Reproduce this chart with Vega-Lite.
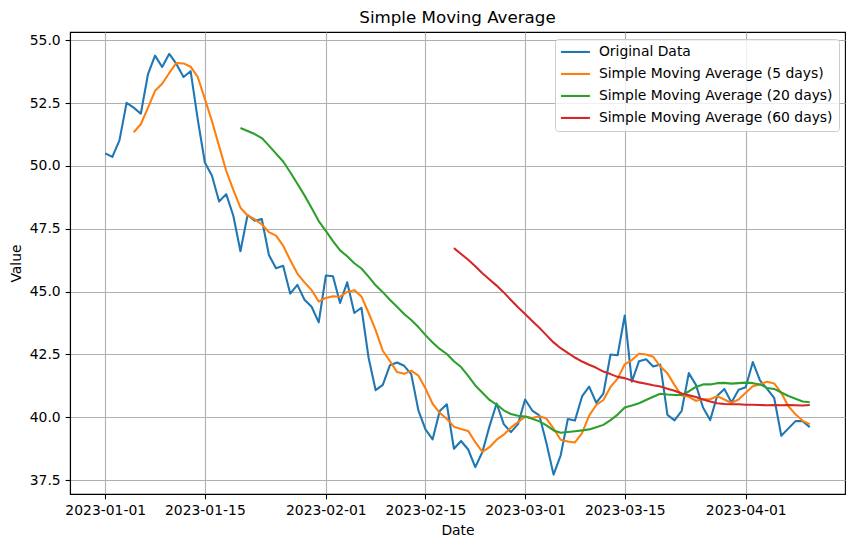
{
  "$schema": "https://vega.github.io/schema/vega-lite/v6.json",
  "width": 775,
  "height": 462,
  "autosize": {"type": "none"},
  "padding": {"left": 70, "top": 32, "right": 9, "bottom": 53},
  "background": "white",
  "title": {"text": "Simple Moving Average", "font": "DejaVu Sans", "fontSize": 16.7, "fontWeight": "normal", "color": "black", "anchor": "middle", "offset": 5},
  "data": {"values": [
    {"date": "2023-01-01", "orig": 50.50},
    {"date": "2023-01-02", "orig": 50.36},
    {"date": "2023-01-03", "orig": 51.02},
    {"date": "2023-01-04", "orig": 52.51},
    {"date": "2023-01-05", "orig": 52.32, "sma5": 51.34},
    {"date": "2023-01-06", "orig": 52.08, "sma5": 51.66},
    {"date": "2023-01-07", "orig": 53.64, "sma5": 52.31},
    {"date": "2023-01-08", "orig": 54.39, "sma5": 52.99},
    {"date": "2023-01-09", "orig": 53.94, "sma5": 53.27},
    {"date": "2023-01-10", "orig": 54.46, "sma5": 53.70},
    {"date": "2023-01-11", "orig": 54.06, "sma5": 54.10},
    {"date": "2023-01-12", "orig": 53.54, "sma5": 54.08},
    {"date": "2023-01-13", "orig": 53.77, "sma5": 53.95},
    {"date": "2023-01-14", "orig": 51.85, "sma5": 53.54},
    {"date": "2023-01-15", "orig": 50.14, "sma5": 52.67},
    {"date": "2023-01-16", "orig": 49.61, "sma5": 51.78},
    {"date": "2023-01-17", "orig": 48.59, "sma5": 50.79},
    {"date": "2023-01-18", "orig": 48.88, "sma5": 49.81},
    {"date": "2023-01-19", "orig": 48.02, "sma5": 49.05},
    {"date": "2023-01-20", "orig": 46.61, "sma5": 48.34, "sma20": 51.51},
    {"date": "2023-01-21", "orig": 48.05, "sma5": 48.03, "sma20": 51.39},
    {"date": "2023-01-22", "orig": 47.82, "sma5": 47.88, "sma20": 51.27},
    {"date": "2023-01-23", "orig": 47.89, "sma5": 47.68, "sma20": 51.11},
    {"date": "2023-01-24", "orig": 46.46, "sma5": 47.37, "sma20": 50.81},
    {"date": "2023-01-25", "orig": 45.93, "sma5": 47.23, "sma20": 50.49},
    {"date": "2023-01-26", "orig": 46.03, "sma5": 46.83, "sma20": 50.18},
    {"date": "2023-01-27", "orig": 44.92, "sma5": 46.25, "sma20": 49.75},
    {"date": "2023-01-28", "orig": 45.27, "sma5": 45.72, "sma20": 49.29},
    {"date": "2023-01-29", "orig": 44.68, "sma5": 45.37, "sma20": 48.83},
    {"date": "2023-01-30", "orig": 44.40, "sma5": 45.06, "sma20": 48.33},
    {"date": "2023-01-31", "orig": 43.78, "sma5": 44.61, "sma20": 47.81},
    {"date": "2023-02-01", "orig": 45.64, "sma5": 44.75, "sma20": 47.42},
    {"date": "2023-02-02", "orig": 45.61, "sma5": 44.82, "sma20": 47.01},
    {"date": "2023-02-03", "orig": 44.55, "sma5": 44.80, "sma20": 46.64},
    {"date": "2023-02-04", "orig": 45.37, "sma5": 44.99, "sma20": 46.41},
    {"date": "2023-02-05", "orig": 44.15, "sma5": 45.06, "sma20": 46.13},
    {"date": "2023-02-06", "orig": 44.36, "sma5": 44.81, "sma20": 45.92},
    {"date": "2023-02-07", "orig": 42.38, "sma5": 44.16, "sma20": 45.60},
    {"date": "2023-02-08", "orig": 41.08, "sma5": 43.47, "sma20": 45.25},
    {"date": "2023-02-09", "orig": 41.29, "sma5": 42.65, "sma20": 44.98},
    {"date": "2023-02-10", "orig": 42.07, "sma5": 42.24, "sma20": 44.68},
    {"date": "2023-02-11", "orig": 42.18, "sma5": 41.80, "sma20": 44.40},
    {"date": "2023-02-12", "orig": 42.05, "sma5": 41.73, "sma20": 44.11},
    {"date": "2023-02-13", "orig": 41.72, "sma5": 41.86, "sma20": 43.87},
    {"date": "2023-02-14", "orig": 40.28, "sma5": 41.66, "sma20": 43.59},
    {"date": "2023-02-15", "orig": 39.52, "sma5": 41.15, "sma20": 43.27},
    {"date": "2023-02-16", "orig": 39.12, "sma5": 40.54, "sma20": 42.98},
    {"date": "2023-02-17", "orig": 40.25, "sma5": 40.18, "sma20": 42.72},
    {"date": "2023-02-18", "orig": 40.52, "sma5": 39.94, "sma20": 42.52},
    {"date": "2023-02-19", "orig": 38.75, "sma5": 39.63, "sma20": 42.23, "sma60": 46.73},
    {"date": "2023-02-20", "orig": 39.06, "sma5": 39.54, "sma20": 42.00, "sma60": 46.50},
    {"date": "2023-02-21", "orig": 38.72, "sma5": 39.46, "sma20": 41.65, "sma60": 46.27},
    {"date": "2023-02-22", "orig": 38.02, "sma5": 39.01, "sma20": 41.27, "sma60": 46.01},
    {"date": "2023-02-23", "orig": 38.62, "sma5": 38.63, "sma20": 40.98, "sma60": 45.73},
    {"date": "2023-02-24", "orig": 39.65, "sma5": 38.81, "sma20": 40.69, "sma60": 45.48},
    {"date": "2023-02-25", "orig": 40.55, "sma5": 39.11, "sma20": 40.51, "sma60": 45.24},
    {"date": "2023-02-26", "orig": 39.73, "sma5": 39.31, "sma20": 40.28, "sma60": 44.97},
    {"date": "2023-02-27", "orig": 39.41, "sma5": 39.59, "sma20": 40.13, "sma60": 44.67},
    {"date": "2023-02-28", "orig": 39.73, "sma5": 39.81, "sma20": 40.06, "sma60": 44.38},
    {"date": "2023-03-01", "orig": 40.71, "sma5": 40.03, "sma20": 40.03, "sma60": 44.11},
    {"date": "2023-03-02", "orig": 40.27, "sma5": 39.97, "sma20": 39.94, "sma60": 43.83},
    {"date": "2023-03-03", "orig": 40.08, "sma5": 40.04, "sma20": 39.84, "sma60": 43.56},
    {"date": "2023-03-04", "orig": 38.97, "sma5": 39.95, "sma20": 39.68, "sma60": 43.27},
    {"date": "2023-03-05", "orig": 37.72, "sma5": 39.55, "sma20": 39.48, "sma60": 42.98},
    {"date": "2023-03-06", "orig": 38.49, "sma5": 39.11, "sma20": 39.39, "sma60": 42.75},
    {"date": "2023-03-07", "orig": 39.93, "sma5": 39.04, "sma20": 39.42, "sma60": 42.56},
    {"date": "2023-03-08", "orig": 39.87, "sma5": 39.00, "sma20": 39.45, "sma60": 42.38},
    {"date": "2023-03-09", "orig": 40.83, "sma5": 39.37, "sma20": 39.48, "sma60": 42.22},
    {"date": "2023-03-10", "orig": 41.22, "sma5": 40.07, "sma20": 39.52, "sma60": 42.09},
    {"date": "2023-03-11", "orig": 40.58, "sma5": 40.49, "sma20": 39.61, "sma60": 41.97},
    {"date": "2023-03-12", "orig": 40.94, "sma5": 40.69, "sma20": 39.70, "sma60": 41.82},
    {"date": "2023-03-13", "orig": 42.50, "sma5": 41.21, "sma20": 39.89, "sma60": 41.72},
    {"date": "2023-03-14", "orig": 42.47, "sma5": 41.54, "sma20": 40.11, "sma60": 41.61},
    {"date": "2023-03-15", "orig": 44.05, "sma5": 42.11, "sma20": 40.39, "sma60": 41.56},
    {"date": "2023-03-16", "orig": 41.42, "sma5": 42.28, "sma20": 40.47, "sma60": 41.47},
    {"date": "2023-03-17", "orig": 42.23, "sma5": 42.53, "sma20": 40.56, "sma60": 41.39},
    {"date": "2023-03-18", "orig": 42.31, "sma5": 42.50, "sma20": 40.69, "sma60": 41.34},
    {"date": "2023-03-19", "orig": 42.02, "sma5": 42.41, "sma20": 40.82, "sma60": 41.28},
    {"date": "2023-03-20", "orig": 42.10, "sma5": 42.02, "sma20": 40.94, "sma60": 41.23},
    {"date": "2023-03-21", "orig": 40.10, "sma5": 41.75, "sma20": 40.91, "sma60": 41.14},
    {"date": "2023-03-22", "orig": 39.88, "sma5": 41.28, "sma20": 40.89, "sma60": 41.06},
    {"date": "2023-03-23", "orig": 40.26, "sma5": 40.87, "sma20": 40.89, "sma60": 40.95},
    {"date": "2023-03-24", "orig": 41.76, "sma5": 40.82, "sma20": 41.03, "sma60": 40.88},
    {"date": "2023-03-25", "orig": 41.29, "sma5": 40.66, "sma20": 41.21, "sma60": 40.81},
    {"date": "2023-03-26", "orig": 40.39, "sma5": 40.72, "sma20": 41.31, "sma60": 40.71},
    {"date": "2023-03-27", "orig": 39.89, "sma5": 40.72, "sma20": 41.31, "sma60": 40.63},
    {"date": "2023-03-28", "orig": 40.86, "sma5": 40.84, "sma20": 41.36, "sma60": 40.56},
    {"date": "2023-03-29", "orig": 41.13, "sma5": 40.71, "sma20": 41.37, "sma60": 40.53},
    {"date": "2023-03-30", "orig": 40.59, "sma5": 40.57, "sma20": 41.34, "sma60": 40.52},
    {"date": "2023-03-31", "orig": 41.10, "sma5": 40.71, "sma20": 41.36, "sma60": 40.52},
    {"date": "2023-04-01", "orig": 41.20, "sma5": 40.98, "sma20": 41.38, "sma60": 40.50},
    {"date": "2023-04-02", "orig": 42.20, "sma5": 41.24, "sma20": 41.36, "sma60": 40.50},
    {"date": "2023-04-03", "orig": 41.47, "sma5": 41.31, "sma20": 41.31, "sma60": 40.49},
    {"date": "2023-04-04", "orig": 41.13, "sma5": 41.42, "sma20": 41.17, "sma60": 40.48},
    {"date": "2023-04-05", "orig": 40.77, "sma5": 41.35, "sma20": 41.13, "sma60": 40.49},
    {"date": "2023-04-06", "orig": 39.27, "sma5": 40.97, "sma20": 40.99, "sma60": 40.48},
    {"date": "2023-04-07", "orig": 39.56, "sma5": 40.44, "sma20": 40.85, "sma60": 40.49},
    {"date": "2023-04-08", "orig": 39.85, "sma5": 40.12, "sma20": 40.74, "sma60": 40.48},
    {"date": "2023-04-09", "orig": 39.85, "sma5": 39.86, "sma20": 40.63, "sma60": 40.47},
    {"date": "2023-04-10", "orig": 39.61, "sma5": 39.73, "sma20": 40.60, "sma60": 40.49}
  ]},
  "transform": [
    {"fold": ["orig", "sma5", "sma20", "sma60"], "as": ["series", "value"]},
    {"filter": "isValid(datum.value)"}
  ],
  "mark": {"type": "line", "strokeWidth": 2.08, "strokeJoin": "round", "clip": true},
  "encoding": {
    "x": {
      "field": "date", "type": "temporal", "title": "Date",
      "scale": {"type": "utc", "domain": [1672103520000, 1681512480000]},
      "axis": {
        "values": [1672531200000, 1673740800000, 1675209600000, 1676419200000, 1677628800000, 1678838400000, 1680307200000],
        "labelExpr": "utcFormat(datum.value, '%Y-%m-%d')", "labelFlush": false, "labelOverlap": false,
        "labelAngle": 0, "titlePadding": 6
      }
    },
    "y": {
      "field": "value", "type": "quantitative", "title": "Value",
      "scale": {"domain": [36.95, 55.33], "nice": false, "zero": false},
      "axis": {"values": [37.5, 40, 42.5, 45, 47.5, 50, 52.5, 55], "format": ".1f", "titlePadding": 6}
    },
    "color": {
      "field": "series", "type": "nominal",
      "scale": {"domain": ["orig", "sma5", "sma20", "sma60"], "range": ["#1f77b4", "#ff7f0e", "#2ca02c", "#d62728"]},
      "legend": {
        "orient": "none", "legendX": 485, "legendY": 7, "title": null,
        "symbolType": "M-1.4,0H4.4", "symbolSize": 100, "symbolStrokeWidth": 2.08,
        "labelFont": "DejaVu Sans", "labelFontSize": 13.9, "labelColor": "black",
        "labelOffset": 24, "rowPadding": 7, "padding": 6, "labelLimit": 0,
        "fillColor": "rgba(255,255,255,0.8)", "strokeColor": "#cccccc", "cornerRadius": 3,
        "labelExpr": "datum.value == 'orig' ? 'Original Data' : datum.value == 'sma5' ? 'Simple Moving Average (5 days)' : datum.value == 'sma20' ? 'Simple Moving Average (20 days)' : 'Simple Moving Average (60 days)'"
      }
    }
  },
  "config": {
    "view": {"stroke": "black", "strokeWidth": 1.1},
    "axis": {
      "domainColor": "black", "domainWidth": 1.1, "tickColor": "black", "tickWidth": 1.1, "tickSize": 4.9,
      "labelFont": "DejaVu Sans", "labelFontSize": 13.9, "labelColor": "black", "labelPadding": 4.9,
      "titleFont": "DejaVu Sans", "titleFontSize": 13.9, "titleFontWeight": "normal", "titleColor": "black",
      "grid": true, "gridColor": "#b0b0b0", "gridWidth": 1.1
    }
  }
}
